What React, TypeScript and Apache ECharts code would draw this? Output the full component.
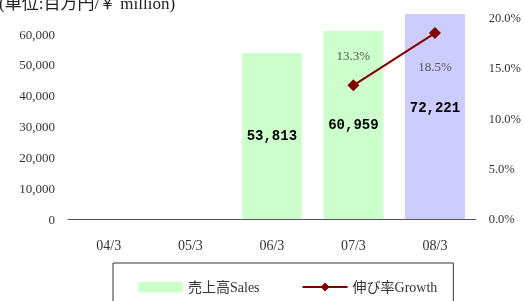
import React, { useEffect, useRef } from "react";
import * as echarts from "echarts";

const categories = ["04/3", "05/3", "06/3", "07/3", "08/3"];
const salesValues: (number | null)[] = [null, null, 53813, 60959, 72221];
const growthValues: (number | null)[] = [null, null, null, 13.3, 18.5];
const salesName = "売上高Sales";
const growthName = "伸び率Growth";
const unitTitle = "(単位:百万円/￥ million)";

const SERIF = "'Liberation Serif', 'Noto Sans CJK JP', serif";

export default function App() {
  const ref = useRef<HTMLDivElement>(null);
  useEffect(() => {
    if (!ref.current) return;
    const chart = echarts.init(ref.current, undefined, { renderer: "svg" });
    const salesData = salesValues.map((v, i) => {
      if (v == null) return null;
      const item: any = { value: v };
      if (i === 4) item.itemStyle = { color: "#CCCCFF" };
      if (i === 4) item.label = { offset: [0, -9] };
      return item;
    });
    const growthData = growthValues.map((v, i) => {
      if (v == null) return null;
      const item: any = { value: v };
      item.label =
        i === 4
          ? { position: "bottom", distance: 21 }
          : { position: "top", distance: 17 };
      return item;
    });
    chart.setOption({
      animation: false,
      grid: { left: 68, right: 43, top: 14, bottom: 82 },
      graphic: [
        {
          type: "text",
          x: -1,
          y: -5,
          style: {
            text: unitTitle,
            font: `17px ${SERIF}`,
            fill: "#222",
          },
        },
      ],
      legend: {
        data: [salesName, growthName],
        left: 113,
        top: 263,
        padding: [17, 16, 20, 25],
        borderColor: "#333",
        borderWidth: 1,
        itemWidth: 45,
        itemHeight: 11,
        itemGap: 42,
        textStyle: { fontSize: 14, fontFamily: SERIF, color: "#333" },
      },
      xAxis: {
        type: "category",
        data: categories,
        axisLine: { show: true, lineStyle: { color: "#555", width: 1 } },
        axisTick: { show: false },
        axisLabel: { fontSize: 14, fontFamily: SERIF, color: "#333", margin: 19 },
      },
      yAxis: [
        {
          type: "value",
          min: 0,
          max: 66500,
          interval: 10000,
          splitLine: { show: false },
          axisLine: { show: false },
          axisTick: { show: false },
          axisLabel: {
            showMaxLabel: false,
            fontSize: 13,
            fontFamily: SERIF,
            color: "#333",
            margin: 13,
            formatter: (v: number) => v.toLocaleString("en-US"),
          },
        },
        {
          type: "value",
          min: 0,
          max: 20.4,
          interval: 5,
          splitLine: { show: false },
          axisLine: { show: false },
          axisTick: { show: false },
          axisLabel: {
            showMaxLabel: false,
            fontSize: 12.5,
            fontFamily: SERIF,
            color: "#333",
            margin: 13,
            formatter: (v: number) => v.toFixed(1) + "%",
          },
        },
      ],
      series: [
        {
          name: salesName,
          type: "bar",
          data: salesData,
          barWidth: 60,
          itemStyle: { color: "#CCFFCC" },
          label: {
            show: true,
            position: "inside",
            fontFamily: "'Liberation Mono', monospace",
            fontWeight: "bold",
            fontSize: 14,
            color: "#000",
            formatter: (p: any) => Number(p.value).toLocaleString("en-US"),
          },
        },
        {
          name: growthName,
          type: "line",
          yAxisIndex: 1,
          data: growthData,
          symbol: "diamond",
          symbolSize: 12,
          lineStyle: { color: "#800000", width: 2 },
          itemStyle: { color: "#800000" },
          label: {
            show: true,
            fontFamily: SERIF,
            fontSize: 13,
            color: "#555",
            formatter: (p: any) => Number(p.value).toFixed(1) + "%",
          },
        },
      ],
    });
    return () => chart.dispose();
  }, []);
  return (
    <div
      ref={ref}
      style={{ position: "fixed", left: 0, top: 0, width: 524, height: 301 }}
    />
  );
}
